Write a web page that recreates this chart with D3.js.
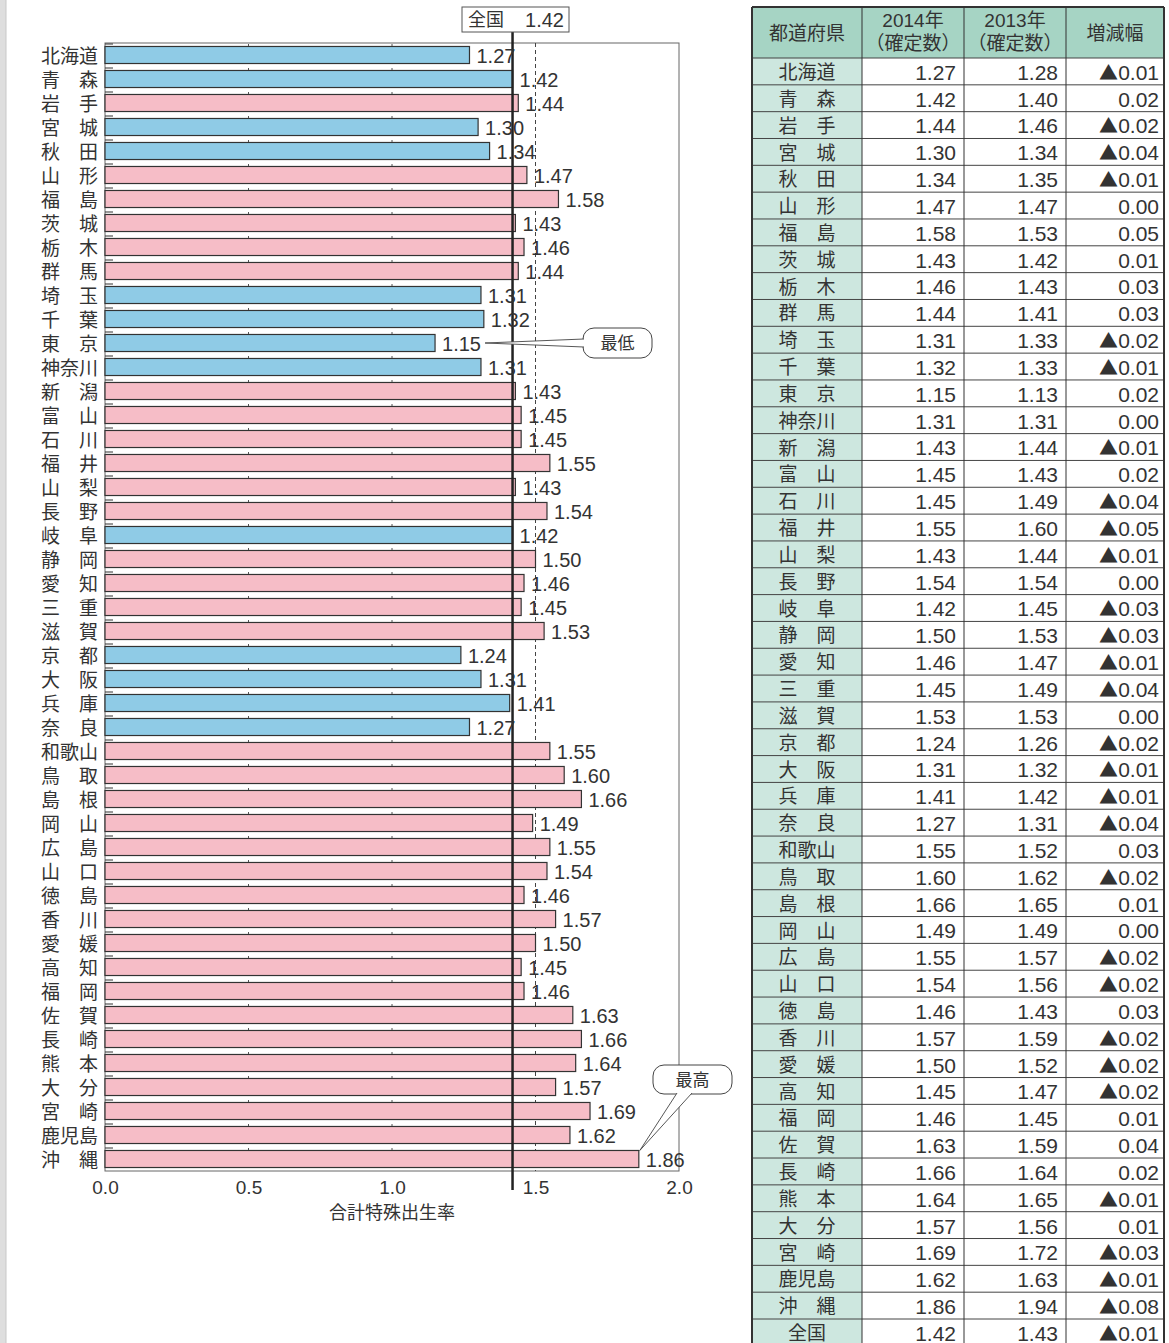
<!DOCTYPE html>
<html>
<head>
<meta charset="utf-8">
<script src="https://cdn.jsdelivr.net/npm/d3@7"></script>
<style>
  body { margin: 0; background: #fff; }
  svg { display: block; font-family: "Liberation Sans", "Noto Sans CJK JP", sans-serif; }
</style>
</head>
<body>
<svg id="chart" width="1169" height="1343"></svg>
<script>
// prefectures (ideographic space pads two-character names)
const prefs = ["北海道","青　森","岩　手","宮　城","秋　田","山　形","福　島","茨　城","栃　木","群　馬",
  "埼　玉","千　葉","東　京","神奈川","新　潟","富　山","石　川","福　井","山　梨","長　野",
  "岐　阜","静　岡","愛　知","三　重","滋　賀","京　都","大　阪","兵　庫","奈　良","和歌山",
  "鳥　取","島　根","岡　山","広　島","山　口","徳　島","香　川","愛　媛","高　知","福　岡",
  "佐　賀","長　崎","熊　本","大　分","宮　崎","鹿児島","沖　縄"];
const rate2014 = [1.27,1.42,1.44,1.30,1.34,1.47,1.58,1.43,1.46,1.44,
  1.31,1.32,1.15,1.31,1.43,1.45,1.45,1.55,1.43,1.54,
  1.42,1.50,1.46,1.45,1.53,1.24,1.31,1.41,1.27,1.55,
  1.60,1.66,1.49,1.55,1.54,1.46,1.57,1.50,1.45,1.46,
  1.63,1.66,1.64,1.57,1.69,1.62,1.86];
const rate2013 = [1.28,1.40,1.46,1.34,1.35,1.47,1.53,1.42,1.43,1.41,
  1.33,1.33,1.13,1.31,1.44,1.43,1.49,1.60,1.44,1.54,
  1.45,1.53,1.47,1.49,1.53,1.26,1.32,1.42,1.31,1.52,
  1.62,1.65,1.49,1.57,1.56,1.43,1.59,1.52,1.47,1.45,
  1.59,1.64,1.65,1.56,1.72,1.63,1.94];
const national = {name: "全国", v2014: 1.42, v2013: 1.43};
const xTicks = [0, 0.5, 1.0, 1.5, 2.0];
const axisTitle = "合計特殊出生率";
const tableHeader = [["都道府県"], ["2014年", "（確定数）"], ["2013年", "（確定数）"], ["増減幅"]];

const svg = d3.select("#chart");

// left page edge
svg.append("rect").attr("x", 0).attr("y", 0).attr("width", 6).attr("height", 1343).attr("fill", "#dedede");
svg.append("line").attr("x1", 6).attr("x2", 6).attr("y1", 0).attr("y2", 1343).attr("stroke", "#c8c8c8");

// ---------- bar chart ----------
const x = d3.scaleLinear().domain([0, 2]).range([105, 679]);
const y = d3.scaleBand().domain(prefs).range([43, 1171]).paddingInner(0.29).paddingOuter(0.145);
const step = y.step();

const chart = svg.append("g");

// frame
chart.append("rect")
  .attr("x", x(0)).attr("y", 43).attr("width", x(2) - x(0)).attr("height", 1171 - 43)
  .attr("fill", "none").attr("stroke", "#666").attr("stroke-width", 1);

// small ticks at row boundaries
const bounds = d3.range(prefs.length).map(i => 43 + i * step);
chart.selectAll(".ltick").data(bounds).join("line")
  .attr("x1", x(0)).attr("x2", x(0) + 8).attr("y1", d => d + 1).attr("y2", d => d + 1)
  .attr("stroke", "#333").attr("stroke-width", 1);
[0.5, 1.0].forEach(v => {
  chart.selectAll(null).data(bounds).join("line")
    .attr("x1", x(v)).attr("x2", x(v)).attr("y1", d => d + 1).attr("y2", d => d + 4)
    .attr("stroke", "#555").attr("stroke-width", 1);
});

// dashed 1.5 reference
chart.append("line")
  .attr("x1", x(1.5)).attr("x2", x(1.5)).attr("y1", 43).attr("y2", 1171)
  .attr("stroke", "#444").attr("stroke-width", 1).attr("stroke-dasharray", "4,3");

// bars
chart.selectAll(".bar").data(prefs).join("rect")
  .attr("class", "bar")
  .attr("x", x(0))
  .attr("y", d => y(d))
  .attr("width", (d, i) => x(rate2014[i]) - x(0))
  .attr("height", y.bandwidth())
  .attr("fill", (d, i) => rate2014[i] <= national.v2014 ? "#8fcbe6" : "#f6bdc7")
  .attr("stroke", "#333").attr("stroke-width", 1.2);

// national line
chart.append("line")
  .attr("x1", x(national.v2014)).attr("x2", x(national.v2014)).attr("y1", 32).attr("y2", 1190)
  .attr("stroke", "#222").attr("stroke-width", 2.5);

// value labels
chart.selectAll(".val").data(prefs).join("text")
  .attr("x", (d, i) => x(rate2014[i]) + 7)
  .attr("y", d => y(d) + y.bandwidth() / 2)
  .attr("dy", "0.4em")
  .attr("font-size", 20).attr("fill", "#333")
  .text((d, i) => rate2014[i].toFixed(2));

// category labels
chart.selectAll(".cat").data(prefs).join("text")
  .attr("x", 98)
  .attr("y", d => y(d) + y.bandwidth() / 2)
  .attr("dy", "0.4em")
  .attr("text-anchor", "end")
  .attr("font-size", 19).attr("fill", "#333")
  .text(d => d);

// x axis
const xAxis = d3.axisBottom(x).tickValues(xTicks).tickSize(0).tickPadding(10).tickFormat(d3.format(".1f"));
const xAxisG = chart.append("g").attr("transform", "translate(0,1171)").call(xAxis);
xAxisG.select(".domain").remove();
xAxisG.selectAll("text").attr("font-size", 19).attr("fill", "#333")
  .attr("font-family", "Liberation Sans, sans-serif");
chart.append("text")
  .attr("x", x(1.0)).attr("y", 1219).attr("text-anchor", "middle")
  .attr("font-size", 18).attr("fill", "#333").text(axisTitle);

// national label box
const nb = chart.append("g");
nb.append("rect").attr("x", 462).attr("y", 7).attr("width", 107).attr("height", 25)
  .attr("fill", "#fff").attr("stroke", "#555").attr("stroke-width", 1);
nb.append("text").attr("x", 468).attr("y", 26).attr("font-size", 18).attr("fill", "#333").text("全国");
nb.append("text").attr("x", 564).attr("y", 27).attr("text-anchor", "end").attr("font-size", 20).attr("fill", "#333")
  .text(national.v2014.toFixed(2));

// callouts
function callout(bx, by, bw, bh, tip, base1, base2, label) {
  const g = chart.append("g");
  g.append("rect").attr("x", bx).attr("y", by).attr("width", bw).attr("height", bh)
    .attr("rx", 11).attr("fill", "#fff").attr("stroke", "#444").attr("stroke-width", 1);
  g.append("path")
    .attr("d", `M${base1[0]},${base1[1]}L${tip[0]},${tip[1]}L${base2[0]},${base2[1]}`)
    .attr("fill", "#fff").attr("stroke", "#444").attr("stroke-width", 0.9);
  g.append("text").attr("x", bx + bw / 2).attr("y", by + bh / 2).attr("dy", "0.36em")
    .attr("text-anchor", "middle").attr("font-size", 17).attr("fill", "#333").text(label);
}
const iMin = d3.minIndex(rate2014), iMax = d3.maxIndex(rate2014);
const yMin = y(prefs[iMin]) + y.bandwidth() / 2;
callout(583, yMin - 15, 69, 30, [x(rate2014[iMin]) + 50, yMin], [584, yMin - 4], [584, yMin + 4], "最低");
const tipMax = [x(rate2014[iMax]) + 1, y(prefs[iMax])];
callout(653, 1065, 79, 29, tipMax, [677, 1093], [692, 1093], "最高");

// ---------- table ----------
const cols = [752, 862, 964, 1066, 1164];
const headTop = 7, headBottom = 58;
const rowsAll = prefs.map((p, i) => ({name: p, a: rate2014[i], b: rate2013[i]}))
  .concat([{name: national.name, a: national.v2014, b: national.v2013}]);
const rowY = d3.scaleBand().domain(d3.range(rowsAll.length)).range([headBottom, headBottom + rowsAll.length * 26.83]);

const table = svg.append("g");
table.append("rect").attr("x", cols[0]).attr("y", headTop).attr("width", cols[4] - cols[0]).attr("height", headBottom - headTop)
  .attr("fill", "#a6d4c4");
table.append("rect").attr("x", cols[0]).attr("y", headBottom).attr("width", cols[1] - cols[0]).attr("height", 1343 - headBottom)
  .attr("fill", "#cde7df");
table.append("rect").attr("x", cols[1]).attr("y", headBottom).attr("width", cols[4] - cols[1]).attr("height", 1343 - headBottom)
  .attr("fill", "#fff");

// horizontal rules
table.selectAll(".hr").data(d3.range(rowsAll.length)).join("line")
  .attr("x1", cols[0]).attr("x2", cols[4])
  .attr("y1", d => rowY(d)).attr("y2", d => rowY(d))
  .attr("stroke", "#444").attr("stroke-width", 1);
table.append("line").attr("x1", cols[0]).attr("x2", cols[4]).attr("y1", headTop).attr("y2", headTop)
  .attr("stroke", "#333").attr("stroke-width", 2);
// vertical rules
table.selectAll(".vr").data(cols).join("line")
  .attr("x1", d => d).attr("x2", d => d).attr("y1", headTop).attr("y2", 1343)
  .attr("stroke", "#333").attr("stroke-width", (d, i) => (i === 0 || i === 4) ? 2 : 1);

// header text
tableHeader.forEach((lines, c) => {
  const cx = (cols[c] + cols[c + 1]) / 2;
  lines.forEach((t, k) => {
    table.append("text")
      .attr("x", cx)
      .attr("y", lines.length === 1 ? 40 : 27 + k * 23)
      .attr("text-anchor", "middle").attr("font-size", 19).attr("fill", "#333")
      .text(t);
  });
});

const changeVal = (a, b) => Math.round((a - b) * 100) / 100;

const rowG = table.selectAll(".row").data(rowsAll).join("g")
  .attr("transform", (d, i) => `translate(0,${rowY(i) + rowY.bandwidth() / 2})`);
rowG.append("text").attr("x", (cols[0] + cols[1]) / 2).attr("dy", "0.4em")
  .attr("text-anchor", "middle").attr("font-size", 19).attr("fill", "#333").text(d => d.name);
rowG.append("text").attr("x", cols[2] - 8).attr("dy", "0.4em")
  .attr("text-anchor", "end").attr("font-size", 21).attr("fill", "#333").text(d => d.a.toFixed(2));
rowG.append("text").attr("x", cols[3] - 8).attr("dy", "0.4em")
  .attr("text-anchor", "end").attr("font-size", 21).attr("fill", "#333").text(d => d.b.toFixed(2));
const chg = rowG.append("text").attr("x", cols[4] - 5).attr("dy", "0.4em")
  .attr("text-anchor", "end").attr("font-size", 21).attr("fill", "#333");
chg.filter(d => changeVal(d.a, d.b) < 0).append("tspan")
  .attr("font-family", "Noto Sans CJK JP").attr("font-size", 19).text("▲");
chg.append("tspan").text(d => Math.abs(changeVal(d.a, d.b)).toFixed(2));
</script>
</body>
</html>
